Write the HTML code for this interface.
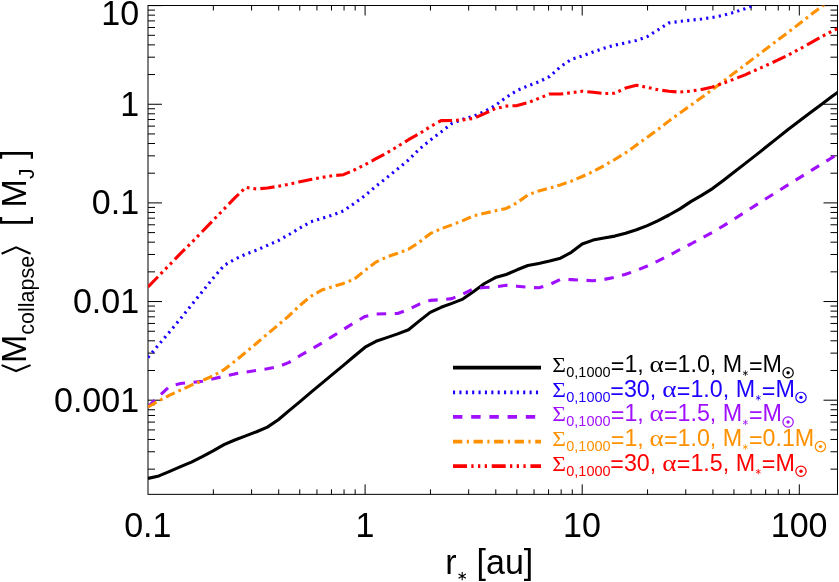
<!DOCTYPE html>
<html><head><meta charset="utf-8"><title>plot</title>
<style>
html,body{margin:0;padding:0;background:#fff;}
body{width:839px;height:582px;overflow:hidden;}
svg{display:block;will-change:transform;}
text{font-family:"Liberation Sans",sans-serif;}
.sy{font-family:"Liberation Serif",serif;}
</style></head><body>
<svg width="839" height="582" viewBox="0 0 839 582">
<rect x="0" y="0" width="839" height="582" fill="#fff"/>
<defs><clipPath id="c"><rect x="148.0" y="5.5" width="689.5" height="488.85"/></clipPath></defs>
<g stroke="#000" stroke-width="1" fill="none" shape-rendering="auto">
<rect x="148.0" y="5.5" width="689.5" height="488.85"/>
<path d="M213.35,494.35v-5M213.35,5.5v5 M251.58,494.35v-5M251.58,5.5v5 M278.71,494.35v-5M278.71,5.5v5 M299.75,494.35v-5M299.75,5.5v5 M316.94,494.35v-5M316.94,5.5v5 M331.47,494.35v-5M331.47,5.5v5 M344.06,494.35v-5M344.06,5.5v5 M355.17,494.35v-5M355.17,5.5v5 M365.10,494.35v-10M365.10,5.5v10 M430.45,494.35v-5M430.45,5.5v5 M468.68,494.35v-5M468.68,5.5v5 M495.81,494.35v-5M495.81,5.5v5 M516.85,494.35v-5M516.85,5.5v5 M534.04,494.35v-5M534.04,5.5v5 M548.57,494.35v-5M548.57,5.5v5 M561.16,494.35v-5M561.16,5.5v5 M572.27,494.35v-5M572.27,5.5v5 M582.20,494.35v-10M582.20,5.5v10 M647.55,494.35v-5M647.55,5.5v5 M685.78,494.35v-5M685.78,5.5v5 M712.91,494.35v-5M712.91,5.5v5 M733.95,494.35v-5M733.95,5.5v5 M751.14,494.35v-5M751.14,5.5v5 M765.67,494.35v-5M765.67,5.5v5 M778.26,494.35v-5M778.26,5.5v5 M789.37,494.35v-5M789.37,5.5v5 M799.30,494.35v-10M799.30,5.5v10 M148.0,469.15h7M837.5,469.15h-7 M148.0,451.78h7M837.5,451.78h-7 M148.0,439.46h7M837.5,439.46h-7 M148.0,429.90h7M837.5,429.90h-7 M148.0,422.09h7M837.5,422.09h-7 M148.0,415.48h7M837.5,415.48h-7 M148.0,409.76h7M837.5,409.76h-7 M148.0,404.71h7M837.5,404.71h-7 M148.0,400.20h14M837.5,400.20h-14 M148.0,370.50h7M837.5,370.50h-7 M148.0,353.13h7M837.5,353.13h-7 M148.0,340.81h7M837.5,340.81h-7 M148.0,331.25h7M837.5,331.25h-7 M148.0,323.44h7M837.5,323.44h-7 M148.0,316.83h7M837.5,316.83h-7 M148.0,311.11h7M837.5,311.11h-7 M148.0,306.06h7M837.5,306.06h-7 M148.0,301.55h14M837.5,301.55h-14 M148.0,271.85h7M837.5,271.85h-7 M148.0,254.48h7M837.5,254.48h-7 M148.0,242.16h7M837.5,242.16h-7 M148.0,232.60h7M837.5,232.60h-7 M148.0,224.79h7M837.5,224.79h-7 M148.0,218.18h7M837.5,218.18h-7 M148.0,212.46h7M837.5,212.46h-7 M148.0,207.41h7M837.5,207.41h-7 M148.0,202.90h14M837.5,202.90h-14 M148.0,173.20h7M837.5,173.20h-7 M148.0,155.83h7M837.5,155.83h-7 M148.0,143.51h7M837.5,143.51h-7 M148.0,133.95h7M837.5,133.95h-7 M148.0,126.14h7M837.5,126.14h-7 M148.0,119.53h7M837.5,119.53h-7 M148.0,113.81h7M837.5,113.81h-7 M148.0,108.76h7M837.5,108.76h-7 M148.0,104.25h14M837.5,104.25h-14 M148.0,74.55h7M837.5,74.55h-7 M148.0,57.18h7M837.5,57.18h-7 M148.0,44.86h7M837.5,44.86h-7 M148.0,35.30h7M837.5,35.30h-7 M148.0,27.49h7M837.5,27.49h-7 M148.0,20.88h7M837.5,20.88h-7 M148.0,15.16h7M837.5,15.16h-7 M148.0,10.11h7M837.5,10.11h-7 M148.0,5.60h14M837.5,5.60h-14"/>
</g>
<g clip-path="url(#c)" fill="none" stroke-linejoin="round">
<polyline points="148.0,478.4 158.9,475.9 169.7,471.4 180.6,466.7 191.4,462.1 202.3,456.7 213.1,450.9 224.0,444.7 234.8,440.0 245.7,435.9 256.6,431.7 267.4,427.1 278.3,419.8 289.1,410.6 300.0,401.6 310.8,392.4 321.7,383.4 332.5,374.4 343.4,365.4 354.2,356.2 365.1,347.2 376.0,341.3 386.8,337.6 397.7,333.9 408.5,329.8 419.4,320.9 430.2,312.4 441.1,307.3 451.9,303.4 462.8,299.1 473.7,291.4 484.5,283.5 495.4,277.6 506.2,274.5 517.1,269.8 527.9,265.5 538.8,263.4 549.6,261.1 560.5,258.2 571.3,252.3 582.2,244.0 593.1,240.1 603.9,238.0 614.8,236.1 625.6,233.2 636.5,229.8 647.3,225.6 658.2,220.6 669.0,215.0 679.9,208.9 690.8,201.6 701.6,195.4 712.5,188.6 723.3,180.4 734.2,172.1 745.0,163.6 755.9,155.1 766.7,146.5 777.6,137.9 788.4,129.2 799.3,121.0 810.2,112.8 821.0,104.7 831.9,96.6 842.7,88.6" stroke="#000000" stroke-width="3.1"/>
<polyline points="148.0,357.5 158.9,344.4 169.7,331.8 180.6,318.6 191.4,305.1 202.3,291.7 213.1,278.2 224.0,265.5 234.8,259.2 245.7,254.2 256.6,250.1 267.4,245.4 278.3,240.6 289.1,234.5 300.0,228.0 310.8,221.8 321.7,218.4 332.5,215.1 343.4,210.9 354.2,203.4 365.1,195.4 376.0,186.2 386.8,177.7 397.7,168.9 408.5,160.0 419.4,149.0 430.2,140.2 441.1,131.9 451.9,123.5 462.8,119.3 473.7,116.1 484.5,111.6 495.4,105.3 506.2,97.3 517.1,90.5 527.9,85.9 538.8,81.9 549.6,76.5 560.5,66.7 571.3,59.4 582.2,56.0 593.1,52.0 603.9,48.2 614.8,45.1 625.6,42.9 636.5,40.4 647.3,36.6 658.2,29.7 669.0,22.9 679.9,21.4 690.8,20.2 701.6,19.0 712.5,17.5 723.3,15.3 734.2,12.3 745.0,8.7 755.9,4.4" stroke="#1c00ff" stroke-width="3.1" stroke-dasharray="2.2 4.18"/>
<polyline points="148.0,406.8 158.9,396.2 169.7,386.2 180.6,383.5 191.4,382.4 202.3,381.3 213.1,378.7 224.0,376.4 234.8,373.9 245.7,372.1 256.6,370.4 267.4,368.7 278.3,366.7 289.1,362.4 300.0,355.7 310.8,349.5 321.7,343.1 332.5,336.4 343.4,329.5 354.2,322.7 365.1,316.4 376.0,314.0 386.8,313.7 397.7,313.5 408.5,309.6 419.4,304.1 430.2,300.4 441.1,299.7 451.9,298.6 462.8,294.1 473.7,288.7 484.5,287.5 495.4,286.8 506.2,285.3 517.1,286.2 527.9,287.3 538.8,287.8 549.6,284.6 560.5,279.4 571.3,279.6 582.2,280.2 593.1,280.7 603.9,279.5 614.8,277.3 625.6,274.3 636.5,270.5 647.3,266.0 658.2,260.9 669.0,255.5 679.9,249.5 690.8,244.0 701.6,238.2 712.5,232.3 723.3,225.9 734.2,219.1 745.0,212.1 755.9,205.1 766.7,198.2 777.6,191.4 788.4,184.6 799.3,177.9 810.2,171.2 821.0,164.5 831.9,157.7 842.7,151.0" stroke="#a010ff" stroke-width="3.1" stroke-dasharray="9.5 8.55"/>
<polyline points="148.0,406.9 158.9,400.9 169.7,395.1 180.6,390.1 191.4,385.1 202.3,380.6 213.1,375.9 224.0,369.7 234.8,361.3 245.7,352.3 256.6,343.2 267.4,334.0 278.3,324.9 289.1,315.7 300.0,305.3 310.8,296.3 321.7,290.1 332.5,286.7 343.4,283.4 354.2,279.2 365.1,270.3 376.0,262.1 386.8,257.0 397.7,253.3 408.5,249.3 419.4,242.1 430.2,233.7 441.1,228.7 451.9,224.9 462.8,220.6 473.7,215.8 484.5,213.3 495.4,210.8 506.2,208.4 517.1,202.7 527.9,194.9 538.8,190.9 549.6,188.0 560.5,184.9 571.3,181.2 582.2,176.5 593.1,171.5 603.9,165.7 614.8,159.5 625.6,152.9 636.5,145.1 647.3,137.2 658.2,129.3 669.0,120.9 679.9,113.0 690.8,105.3 701.6,97.5 712.5,89.5 723.3,81.3 734.2,73.1 745.0,65.0 755.9,56.6 766.7,48.5 777.6,40.1 788.4,32.1 799.3,23.8 810.2,15.3 821.0,7.0 831.9,-1.4" stroke="#ff9000" stroke-width="3.1" stroke-dasharray="9.7 4.1 2.7 4.0"/>
<polyline points="148.0,287.0 158.9,275.8 169.7,264.6 180.6,253.4 191.4,242.8 202.3,231.5 213.1,220.3 224.0,209.1 234.8,197.9 245.7,187.4 256.6,189.0 267.4,188.0 278.3,186.3 289.1,184.3 300.0,181.7 310.8,179.5 321.7,177.5 332.5,175.7 343.4,174.7 354.2,170.0 365.1,164.7 376.0,158.7 386.8,152.9 397.7,146.4 408.5,139.7 419.4,133.6 430.2,126.7 441.1,120.6 451.9,120.4 462.8,119.9 473.7,118.4 484.5,113.6 495.4,108.6 506.2,106.1 517.1,105.6 527.9,102.7 538.8,98.4 549.6,94.0 560.5,94.0 571.3,92.7 582.2,91.2 593.1,92.2 603.9,93.6 614.8,93.2 625.6,88.1 636.5,85.2 647.3,87.4 658.2,89.8 669.0,91.3 679.9,92.1 690.8,91.1 701.6,89.4 712.5,86.9 723.3,83.2 734.2,79.0 745.0,74.9 755.9,70.0 766.7,65.2 777.6,60.2 788.4,54.9 799.3,49.2 810.2,43.2 821.0,37.0 831.9,31.2 842.7,26.5" stroke="#ff0000" stroke-width="3.1" stroke-dasharray="14.3 3.9 2.8 3.9 2.8 3.9 2.8 4.17"/>
</g>
<g fill="#000">
<text transform="translate(139.10,25.40) scale(0.958,1)" font-size="35.5" text-anchor="end">10</text>
<text transform="translate(139.10,115.75) scale(0.958,1)" font-size="35.5" text-anchor="end">1</text>
<text transform="translate(139.10,214.40) scale(0.958,1)" font-size="35.5" text-anchor="end">0.1</text>
<text transform="translate(139.10,313.05) scale(0.958,1)" font-size="35.5" text-anchor="end">0.01</text>
<text transform="translate(139.10,411.70) scale(0.958,1)" font-size="35.5" text-anchor="end">0.001</text>
<text transform="translate(147.80,537.00) scale(0.958,1)" font-size="35.5" text-anchor="middle">0.1</text>
<text transform="translate(364.90,537.00) scale(0.958,1)" font-size="35.5" text-anchor="middle">1</text>
<text transform="translate(582.00,537.00) scale(0.958,1)" font-size="35.5" text-anchor="middle">10</text>
<text transform="translate(799.10,537.00) scale(0.958,1)" font-size="35.5" text-anchor="middle">100</text>
<text transform="translate(445.30,574.30) scale(0.958,1)" font-size="35.5">r</text>
<path d="M462.20,571.90L462.20,580.30 M458.56,574.00L465.84,578.20 M465.84,574.00L458.56,578.20" stroke="#000" stroke-width="1.1" fill="none"/>
<text transform="translate(476.60,574.30) scale(0.958,1)" font-size="35.5">[au]</text>
</g>
<g transform="translate(26.0,374.2) rotate(-90)" fill="#000">
<path d="M9.1,-24.4L3.2,-9.9L9.1,4.6" stroke="#000" stroke-width="2.1" fill="none"/>
<text transform="translate(11.20,0.00) scale(0.958,1)" font-size="35.5">M</text>
<text x="39.50" y="8.40" font-size="21.5">collapse</text>
<path d="M120.5,-24.4L126.9,-9.9L120.5,4.6" stroke="#000" stroke-width="2.1" fill="none"/>
<text transform="translate(147.90,0.00) scale(0.958,1)" font-size="35.5">[</text>
<text transform="translate(166.80,0.00) scale(0.958,1)" font-size="35.5">M</text>
<text transform="translate(195.10,8.40) scale(0.958,1)" font-size="22">J</text>
<text transform="translate(215.10,0.00) scale(0.958,1)" font-size="35.5">]</text>
</g>
<line x1="453" y1="367.7" x2="541" y2="367.7" stroke="#000000" stroke-width="3.75"/>
<g fill="#000000">
<text transform="translate(552.18,372.10) scale(1.08,1)" font-size="21.8" class="sy">Σ</text>
<text transform="translate(566.30,377.10) scale(0.958,1)" font-size="15.1">0,1000</text>
<text transform="translate(610.80,372.10) scale(0.958,1)" font-size="24.3"><tspan dy="1.9">=</tspan><tspan dy="-1.9">1,</tspan></text>
<text transform="translate(649.47,372.10) scale(1.2,1)" font-size="22.6" class="sy">α</text>
<text transform="translate(663.90,372.10) scale(0.958,1)" font-size="24.3"><tspan dy="1.9">=</tspan><tspan dy="-1.9">1.0, M</tspan></text>
<path d="M745.40,370.50L745.40,375.90 M743.06,371.85L747.74,374.55 M747.74,371.85L743.06,374.55" stroke="#000000" stroke-width="0.8" fill="none"/>
<text transform="translate(748.90,372.10) scale(0.958,1)" font-size="24.3"><tspan dy="1.9">=</tspan><tspan dy="-1.9">M</tspan></text>
<circle cx="788.09" cy="372.80" r="5.15" stroke="#000000" stroke-width="1.2" fill="none"/><circle cx="788.09" cy="372.80" r="1.7" fill="#000000"/>
</g>
<line x1="453" y1="392.3" x2="541" y2="392.3" stroke="#1c00ff" stroke-width="3.75" stroke-dasharray="2.1 4.28"/>
<g fill="#1c00ff">
<text transform="translate(552.18,396.70) scale(1.08,1)" font-size="21.8" class="sy">Σ</text>
<text transform="translate(566.30,401.70) scale(0.958,1)" font-size="15.1">0,1000</text>
<text transform="translate(610.30,396.70) scale(0.958,1)" font-size="24.3"><tspan dy="1.9">=</tspan><tspan dy="-1.9">30,</tspan></text>
<text transform="translate(662.37,396.70) scale(1.2,1)" font-size="22.6" class="sy">α</text>
<text transform="translate(676.80,396.70) scale(0.958,1)" font-size="24.3"><tspan dy="1.9">=</tspan><tspan dy="-1.9">1.0, M</tspan></text>
<path d="M758.30,395.10L758.30,400.50 M755.96,396.45L760.64,399.15 M760.64,396.45L755.96,399.15" stroke="#1c00ff" stroke-width="0.8" fill="none"/>
<text transform="translate(761.80,396.70) scale(0.958,1)" font-size="24.3"><tspan dy="1.9">=</tspan><tspan dy="-1.9">M</tspan></text>
<circle cx="800.99" cy="397.40" r="5.15" stroke="#1c00ff" stroke-width="1.2" fill="none"/><circle cx="800.99" cy="397.40" r="1.7" fill="#1c00ff"/>
</g>
<line x1="453" y1="416.9" x2="541" y2="416.9" stroke="#a010ff" stroke-width="3.75" stroke-dasharray="9.4 8.8"/>
<g fill="#a010ff">
<text transform="translate(552.18,421.30) scale(1.08,1)" font-size="21.8" class="sy">Σ</text>
<text transform="translate(566.30,426.30) scale(0.958,1)" font-size="15.1">0,1000</text>
<text transform="translate(610.80,421.30) scale(0.958,1)" font-size="24.3"><tspan dy="1.9">=</tspan><tspan dy="-1.9">1,</tspan></text>
<text transform="translate(649.47,421.30) scale(1.2,1)" font-size="22.6" class="sy">α</text>
<text transform="translate(663.90,421.30) scale(0.958,1)" font-size="24.3"><tspan dy="1.9">=</tspan><tspan dy="-1.9">1.5, M</tspan></text>
<path d="M745.40,419.70L745.40,425.10 M743.06,421.05L747.74,423.75 M747.74,421.05L743.06,423.75" stroke="#a010ff" stroke-width="0.8" fill="none"/>
<text transform="translate(748.90,421.30) scale(0.958,1)" font-size="24.3"><tspan dy="1.9">=</tspan><tspan dy="-1.9">M</tspan></text>
<circle cx="788.09" cy="422.00" r="5.15" stroke="#a010ff" stroke-width="1.2" fill="none"/><circle cx="788.09" cy="422.00" r="1.7" fill="#a010ff"/>
</g>
<line x1="453" y1="441.5" x2="541" y2="441.5" stroke="#ff9000" stroke-width="3.75" stroke-dasharray="9.3 4.5 2.1 4.65"/>
<g fill="#ff9000">
<text transform="translate(552.18,445.90) scale(1.08,1)" font-size="21.8" class="sy">Σ</text>
<text transform="translate(566.30,450.90) scale(0.958,1)" font-size="15.1">0,1000</text>
<text transform="translate(610.80,445.90) scale(0.958,1)" font-size="24.3"><tspan dy="1.9">=</tspan><tspan dy="-1.9">1,</tspan></text>
<text transform="translate(649.47,445.90) scale(1.2,1)" font-size="22.6" class="sy">α</text>
<text transform="translate(663.90,445.90) scale(0.958,1)" font-size="24.3"><tspan dy="1.9">=</tspan><tspan dy="-1.9">1.0, M</tspan></text>
<path d="M745.40,444.30L745.40,449.70 M743.06,445.65L747.74,448.35 M747.74,445.65L743.06,448.35" stroke="#ff9000" stroke-width="0.8" fill="none"/>
<text transform="translate(748.90,445.90) scale(0.958,1)" font-size="24.3"><tspan dy="1.9">=</tspan><tspan dy="-1.9">0.1M</tspan></text>
<circle cx="820.45" cy="446.60" r="5.15" stroke="#ff9000" stroke-width="1.2" fill="none"/><circle cx="820.45" cy="446.60" r="1.7" fill="#ff9000"/>
</g>
<line x1="453" y1="466.1" x2="541" y2="466.1" stroke="#ff0000" stroke-width="3.75" stroke-dasharray="14 4.3 2.3 4.4 2.3 4.4 2.3 4.7"/>
<g fill="#ff0000">
<text transform="translate(552.18,470.50) scale(1.08,1)" font-size="21.8" class="sy">Σ</text>
<text transform="translate(566.30,475.50) scale(0.958,1)" font-size="15.1">0,1000</text>
<text transform="translate(610.30,470.50) scale(0.958,1)" font-size="24.3"><tspan dy="1.9">=</tspan><tspan dy="-1.9">30,</tspan></text>
<text transform="translate(662.37,470.50) scale(1.2,1)" font-size="22.6" class="sy">α</text>
<text transform="translate(676.80,470.50) scale(0.958,1)" font-size="24.3"><tspan dy="1.9">=</tspan><tspan dy="-1.9">1.5, M</tspan></text>
<path d="M758.30,468.90L758.30,474.30 M755.96,470.25L760.64,472.95 M760.64,470.25L755.96,472.95" stroke="#ff0000" stroke-width="0.8" fill="none"/>
<text transform="translate(761.80,470.50) scale(0.958,1)" font-size="24.3"><tspan dy="1.9">=</tspan><tspan dy="-1.9">M</tspan></text>
<circle cx="800.99" cy="471.20" r="5.15" stroke="#ff0000" stroke-width="1.2" fill="none"/><circle cx="800.99" cy="471.20" r="1.7" fill="#ff0000"/>
</g>
</svg>
</body></html>
